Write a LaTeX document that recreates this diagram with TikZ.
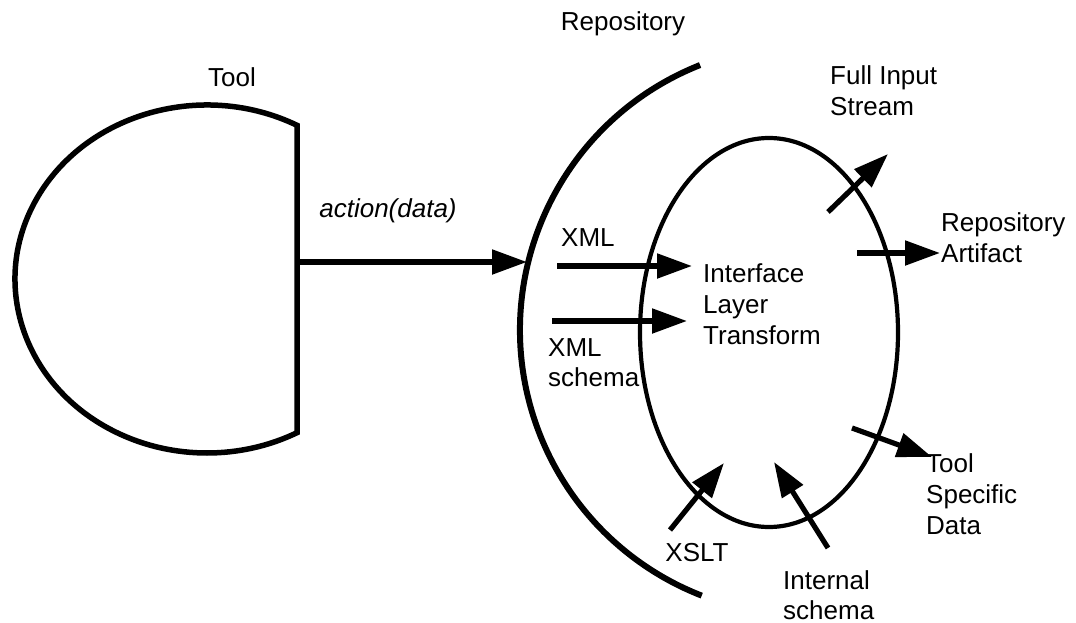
\documentclass[tikz,border=0pt]{standalone}
\usepackage{fontspec}
\setmainfont{Liberation Sans}
\usetikzlibrary{arrows.meta,shapes.geometric}
\begin{document}
\begin{tikzpicture}[x=1pt,y=-1pt,
  lbl/.style={font=\fontsize{26}{31}\selectfont, inner sep=0pt, align=left},
  thick shape/.style={line width=5.5pt, draw=black},
  flow/.style={line width=5.2pt, draw=black, -{Triangle[length=35pt,width=24pt]}},
]
\fill[white] (0,0) rectangle (1076,623);
\useasboundingbox (0,0) rectangle (1076,623);

% Tool: half ellipse closed by a vertical line
\coordinate (toolC) at (207,279);
\draw[thick shape, line join=miter] (toolC) ++(-62:192 and 174) coordinate (toolTop)
  arc[start angle=-62, end angle=-298, x radius=192, y radius=174] coordinate (toolBot) -- cycle;

% Repository boundary arc
\coordinate (repoC) at (805,330);
\draw[line width=6pt] (repoC) ++(-111.6:285) coordinate (repoTop)
  arc[start angle=-111.6, end angle=-248.75, radius=285] coordinate (repoBot);

% Interface layer ellipse
\node[draw, ellipse, line width=4.2pt, minimum width=258pt, minimum height=389pt, inner sep=0pt] (core) at (769,332.5) {};

% Labels
\node[lbl, anchor=base] (toolL) at (232,87) {Tool};
\node[lbl, anchor=base] (repoL) at (623,31) {Repository};
\node[lbl, anchor=base, font=\fontsize{26}{31}\selectfont\itshape] (act) at (388,217) {action(data)};
\node[lbl, anchor=base west] (xmlL) at (561,246) {XML};
\node[lbl, anchor=north west] (xsdL) at (548,338.4) {XML\\[-1pt]schema};
\node[lbl, anchor=north west] (ilt) at (703,263.4) {Interface\\Layer\\Transform};
\node[lbl, anchor=north west] (fisL) at (830,65.4) {Full Input\\Stream};
\node[lbl, anchor=north west] (raL) at (941,212.4) {Repository\\Artifact};
\node[lbl, anchor=north west] (tsdL) at (926,453.4) {Tool\\Specific\\Data};
\node[lbl, anchor=base] (xsltL) at (697,561) {XSLT};
\node[lbl, anchor=north west] (isL) at (783,570.4) {Internal\\[-1pt]schema};

% Arrow end points
\coordinate (actS) at (297,262);
\coordinate (actE) at (527,262);
\coordinate (xmlS) at (557,266);
\coordinate (xmlE) at (692,266);
\coordinate (xsdS) at (552,321);
\coordinate (xsdE) at (687,321);
\coordinate (fisS) at (828,212);
\coordinate (fisE) at (888,154);
\coordinate (raS) at (857,253);
\coordinate (raE) at (940,253);
\coordinate (tsdS) at (852,428);
\coordinate (tsdE) at (932,457);
\coordinate (xsltS) at (670,530);
\coordinate (xsltE) at (724,463);
\coordinate (isS) at (828,548);
\coordinate (isE) at (774,462);

% Arrows
\draw[flow] (actS) -- (actE);
\draw[flow] (xmlS) -- (xmlE);
\draw[flow] (xsdS) -- (xsdE);
\draw[flow] (fisS) -- (fisE);
\draw[flow] (raS) -- (raE);
\draw[flow] (tsdS) -- (tsdE);
\draw[flow] (xsltS) -- (xsltE);
\draw[flow] (isS) -- (isE);
\end{tikzpicture}
\end{document}
